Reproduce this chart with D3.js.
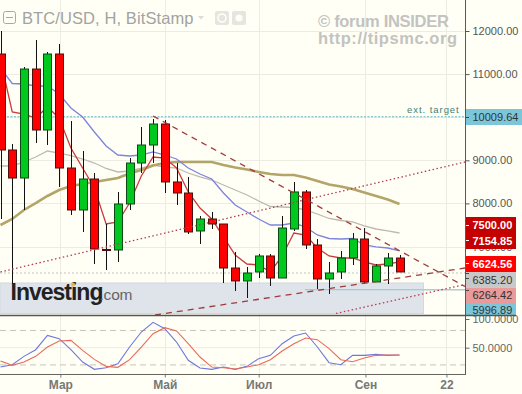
<!DOCTYPE html>
<html><head><meta charset="utf-8">
<style>
html,body{margin:0;padding:0;background:#fffff6;overflow:hidden}
svg{display:block}
text{font-family:"Liberation Sans",Arial,sans-serif}
</style>
<script src="https://cdn.jsdelivr.net/npm/d3@7/dist/d3.min.js"></script>
</head><body><svg id="c" width="522" height="394"></svg>
<script>
const opens =[11466,9239,8589,11118,9703,11466,8821,7847,8566,6931,6919,7986,8937,9355,9842,8497,8241,7360,7638,7522,6501,6200,6409,6780,6269,7406,8265,7035,6246,6409,6733,7174,6177,6548,6733];
const highs =[12000,9378,11165,11791,11513,11698,9912,9216,8705,7522,8265,9053,9773,9958,9935,8937,8613,7708,7801,7522,6873,6525,6826,6826,7708,8497,8311,7174,6641,6896,7313,7429,6594,6849,6803];
const lows  =[7638,6130,7847,9401,9355,8381,7731,7337,6594,6455,6641,7847,8705,8937,8241,7963,7290,7058,7406,6153,5968,5805,6269,6084,6269,7360,6942,6014,5898,6246,6571,6130,6177,6130,6409];
const closes=[9239,8589,11118,9703,11466,8821,7847,8566,6942,6919,7986,8937,9355,9842,8497,8241,7337,7638,7522,6501,6200,6385,6780,6269,7429,8265,7035,6246,6385,6733,7174,6177,6548,6733,6409];
const maBlue=[11141,10782,10770,10724,10724,10538,10213,10005,9657,9332,9123,9100,9123,9193,9123,9030,8821,8682,8566,8241,7963,7801,7638,7499,7499,7545,7453,7267,7186,7174,7186,7035,6989,6965,6896];
const maGrey=[8868,8868,8961,9077,9216,9169,9111,9030,8937,8810,8729,8752,8821,8891,8845,8821,8705,8613,8543,8427,8311,8195,8056,7928,7917,7905,7847,7754,7650,7603,7569,7476,7406,7360,7313];
const maTan =[7499,7638,7847,8009,8172,8311,8404,8450,8497,8543,8589,8694,8775,8879,8937,8961,8961,8961,8961,8891,8833,8787,8729,8682,8659,8659,8601,8520,8439,8392,8334,8253,8172,8091,7986];
const maRed =[11327,10121,10074,9981,10237,9981,9285,8821,8357,7522,7569,8009,8636,9077,9053,8821,8265,7893,7638,7221,6803,6594,6571,6409,6780,7313,7267,6965,6780,6733,6733,6641,6571,6594,6641];
const stochK=[16.3,20.4,34.9,46.5,71.5,65.7,46.5,25,12.3,15.2,22.1,51.2,77.3,94.2,83.1,59.9,28,14.6,12.3,16.3,12.3,17.5,30.9,36.7,57,70.3,75.6,51.2,23.9,20.4,36.7,36.7,38.4,36.7,37.2];
const stochD=[26.8,19.2,25,34.9,51.2,61.6,62.8,45.4,29.7,17.5,15.8,29.1,51.2,74.4,84.9,79.1,57,33.8,16.3,15.2,12.9,16.3,20.4,29.1,44.2,57,66.9,64,48.3,29.1,25.6,32,36.7,37.2,37.2];
const gridTicks=[12000,11000,10000,9000,8000,7000,6000];
const priceTicks=[12000,11000,9000,8000,7000];
const stochTicks=[100,50];
const stochGuides=[80,20];
const timeTickAt=[5.1,14,22,31.1,38];
const timeTickLabels=["Мар","Май","Июл","Сен","22"];
const priceBoxes=[
 {v:10009.64,t:"10009.64",bg:"#7cc6da",fg:"#333"},
 {v:7500,t:"7500.00",bg:"#c40000",fg:"#fff"},
 {v:7154.85,t:"7154.85",bg:"#c40000",fg:"#fff"},
 {v:6624.56,t:"6624.56",bg:"#ff0000",fg:"#fff"},
 {v:6385.20,t:"6385.20",bg:"#c8c8c8",fg:"#333"},
 {v:6264.42,t:"6264.42",bg:"#e99a9a",fg:"#333"},
 {v:5996.89,t:"5996.89",bg:"#7cc6da",fg:"#333"}];
const dashDown=[[13,10028],[39.58,6072]];
const dashUp=[[13.17,5411],[39.58,6501]];
const dotUp=[[0,6409],[39.58,8961]];
const dotLow=[[28.59,5446],[39.58,6119]];

const W=522,H=394,R=465,PB=315,SB=374.5;
const x=d3.scaleLinear().domain([0,34]).range([0.5,399.5]);
const y=d3.scaleLinear().domain([6000,12000]).range([289.6,31]);
const ys=d3.scaleLinear().domain([0,100]).range([376.4,319]);
const svg=d3.select("#c");
svg.append("rect").attr("width",W).attr("height",H).attr("fill","#fffff6");
const defs=svg.append("defs");
defs.append("clipPath").attr("id","pc").append("rect").attr("width",R).attr("height",PB);
const idx=d3.range(opens.length);

// grids
const grid=svg.append("g").attr("stroke","#ecece2").attr("stroke-width",1);
timeTickAt.forEach(t=>grid.append("line").attr("x1",Math.round(x(t))+.5).attr("x2",Math.round(x(t))+.5).attr("y1",0).attr("y2",SB));
gridTicks.forEach(t=>grid.append("line").attr("x1",0).attr("x2",R).attr("y1",Math.round(y(t))+.5).attr("y2",Math.round(y(t))+.5));
grid.append("line").attr("x1",0).attr("x2",R).attr("y1",ys(50)).attr("y2",ys(50));

const main=svg.append("g").attr("clip-path","url(#pc)");
// support zone
main.append("rect").attr("x",0).attr("width",423.5).attr("y",283).attr("height",30.5).attr("fill","#dfe3ea").attr("stroke","#d3d8e0");
// horizontal levels
main.append("line").attr("x1",0).attr("x2",R).attr("y1",y(10009.64)).attr("y2",y(10009.64)).attr("stroke","#62b4c8").attr("stroke-dasharray","2,1.5");
main.append("line").attr("x1",0).attr("x2",R).attr("y1",y(6385.2)).attr("y2",y(6385.2)).attr("stroke","#c4c4bc").attr("stroke-dasharray","2,2");
main.append("line").attr("x1",305).attr("x2",R).attr("y1",y(5996.89)).attr("y2",y(5996.89)).attr("stroke","#86c8d8");

// moving averages
const ln=(sc,a)=>d3.line().x((d,i)=>x(i)).y(d=>sc(d))(a);
const ma=(a,c,w)=>main.append("path").attr("d",ln(y,a)).attr("fill","none").attr("stroke",c).attr("stroke-width",w);
ma(maGrey,"#bdb9b0",1.3);
ma(maTan,"#b3a468",2.6);
ma(maBlue,"#7c84dc",1.3);
ma(maRed,"#c93c3c",1.3);

// candles
const up=i=>closes[i]>opens[i];
main.selectAll("line.w").data(idx).join("line").attr("class","w")
 .attr("x1",i=>Math.round(x(i))+.5).attr("x2",i=>Math.round(x(i))+.5)
 .attr("y1",i=>y(highs[i])).attr("y2",i=>y(lows[i])).attr("stroke","#111").attr("stroke-width",1);
main.selectAll("rect.b").data(idx).join("rect").attr("class","b")
 .attr("x",i=>Math.round(x(i))-3.5).attr("width",8)
 .attr("y",i=>y(Math.max(opens[i],closes[i])))
 .attr("height",i=>Math.max(1,y(Math.min(opens[i],closes[i]))-y(Math.max(opens[i],closes[i]))))
 .attr("fill",i=>up(i)?"#00c81e":"#ff0000")
 .attr("stroke",i=>up(i)?"#0b4a14":"#4a1010").attr("stroke-width",1);

// trend lines
const tl=(p,dash,c,w)=>main.append("line").attr("x1",x(p[0][0])).attr("y1",y(p[0][1])).attr("x2",x(p[1][0])).attr("y2",y(p[1][1])).attr("stroke",c).attr("stroke-width",w).attr("stroke-dasharray",dash);
tl(dashDown,"6,5","#a23a3a",1.3);
tl(dashUp,"6,5","#a23a3a",1.3);
tl(dotUp,"1.5,2.5","#b83a50",1.3);
tl(dotLow,"1.5,2.5","#b83a50",1.3);

// logo
const lg=svg.append("g");
lg.append("text").attr("x",10.5).attr("y",300).attr("font-size",23).attr("font-weight",700).attr("letter-spacing",-1).attr("fill","#222").text("Investing");
lg.append("text").attr("x",99.5).attr("y",300).attr("font-size",15.5).attr("letter-spacing",-.2).attr("fill","#666").text(".com");
lg.append("circle").attr("cx",73).attr("cy",284.5).attr("r",2).attr("fill","#f0b040");

// stochastic
stochGuides.forEach(v=>svg.append("line").attr("x1",0).attr("x2",R).attr("y1",ys(v)).attr("y2",ys(v)).attr("stroke","#c9c4b8").attr("stroke-dasharray","6,4"));
svg.append("path").attr("d",ln(ys,stochK)).attr("fill","none").attr("stroke","#6f76dc").attr("stroke-width",1.1);
svg.append("path").attr("d",ln(ys,stochD)).attr("fill","none").attr("stroke","#ea6a5a").attr("stroke-width",1.1);

// axes
const styleAxis=(g,c,fs,fw)=>{g.select(".domain").remove();g.selectAll("line").attr("stroke",c);g.selectAll("text").attr("fill",c).attr("font-size",fs).attr("font-weight",fw||400).attr("font-family",'"Liberation Sans",Arial,sans-serif');};
const ax1=svg.append("g").attr("transform",`translate(${R+.5},0)`).call(d3.axisRight(y).tickValues(priceTicks).tickFormat(d3.format(".2f")).tickSize(4).tickPadding(3));
styleAxis(ax1,"#555",11);
const ax2=svg.append("g").attr("transform",`translate(${R+.5},0)`).call(d3.axisRight(ys).tickValues(stochTicks).tickFormat(d3.format(".4f")).tickSize(4).tickPadding(3));
styleAxis(ax2,"#666",11);
const ax3=svg.append("g").attr("transform",`translate(0,${SB})`).call(d3.axisBottom(x).tickValues(timeTickAt).tickFormat((d,i)=>timeTickLabels[i]).tickSize(3).tickPadding(3));
styleAxis(ax3,"#777",12,700);

// price boxes
const boxG=svg.append("g");
const boxLayout=[[109,125,522,116.8],[217,233,516,225],[233,249,516,241],[256,272,516,263.8],[272,287.5,516,279.8],[287.5,303,516,295.5],[303,316,516,310.5]];
priceBoxes.forEach((b,i)=>{const L=boxLayout[i];
 boxG.append("rect").attr("x",R).attr("y",L[0]).attr("width",L[2]-R).attr("height",L[1]-L[0]).attr("fill",b.bg);
 boxG.append("line").attr("x1",R).attr("x2",R+4).attr("y1",Math.round(y(b.v))+.5).attr("y2",Math.round(y(b.v))+.5).attr("stroke",b.fg==="#fff"?"#fff":"#444");
 boxG.append("text").attr("x",R+7.5).attr("y",L[3]).attr("dy","0.36em").attr("font-size",11).attr("fill",b.fg).attr("font-weight",b.fg==="#fff"?700:400).text(b.t);
});

// frame lines
svg.append("line").attr("x1",R+.5).attr("x2",R+.5).attr("y1",0).attr("y2",SB+.5).attr("stroke","#5a5a55").attr("stroke-width",1);
svg.append("line").attr("x1",0).attr("x2",516).attr("y1",315.5).attr("y2",315.5).attr("stroke","#55554f").attr("stroke-width",1.3);
svg.append("line").attr("x1",0).attr("x2",R).attr("y1",SB).attr("y2",SB).attr("stroke","#66665f").attr("stroke-width",1);

// header
svg.append("rect").attr("x",3.5).attr("y",11.5).attr("width",12).attr("height",12).attr("rx",2).attr("fill","none").attr("stroke","#a8a8a4");
svg.append("line").attr("x1",6).attr("x2",13).attr("y1",17.5).attr("y2",17.5).attr("stroke","#a8a8a4");
svg.append("text").attr("x",22).attr("y",24).attr("font-size",16.5).attr("fill","#a3a3a0").attr("letter-spacing",.1).attr("font-family","'Open Sans'").text("BTC/USD, H, BitStamp");
svg.append("path").attr("d",d3.line()([[198,16],[204,16],[201,19.5]])).attr("fill","#dcdcd6");
[215,232].forEach((px,i)=>{svg.append("rect").attr("x",px).attr("y",11).attr("width",14).attr("height",14).attr("rx",2).attr("fill","#e6e6e0");
 svg.append("circle").attr("cx",px+7).attr("cy",18).attr("r",i?3.5:4).attr("fill",i?"#fffff6":"none").attr("stroke",i?"none":"#fffff6").attr("stroke-width",1.6);});
// watermark
const wm=svg.append("g").attr("fill","#c3c3c0").attr("font-weight",600).attr("font-size",16.5);
wm.append("text").attr("x",318).attr("y",27).attr("letter-spacing",-.3).attr("font-family","'Open Sans'").text("© forum INSIDER");
wm.append("text").attr("x",318).attr("y",44).attr("letter-spacing",.55).attr("font-family","'Open Sans'").text("http://tipsmc.org");
svg.append("text").attr("x",407).attr("y",113).attr("fill","#3f8070").attr("letter-spacing",.95).attr("font-family","'DejaVu Sans'").attr("font-size",9.5).text("ext. target");
</script></body></html>
